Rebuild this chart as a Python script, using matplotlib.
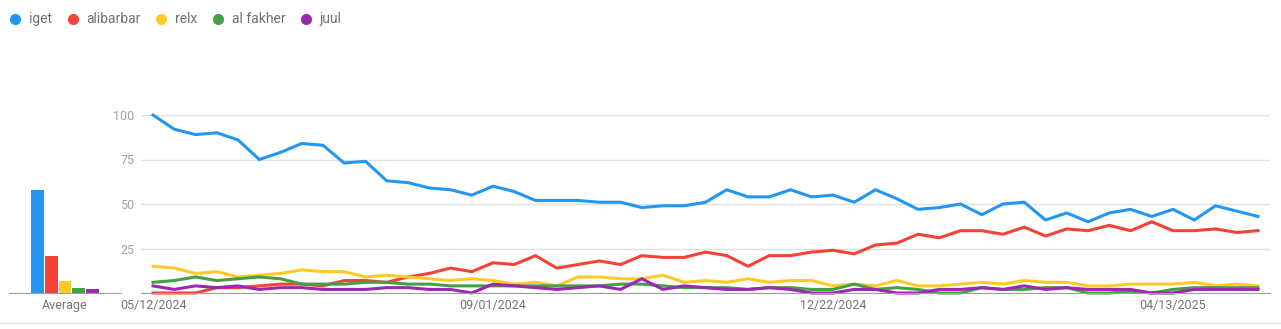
import matplotlib
matplotlib.use("Agg")
import matplotlib.pyplot as plt
import pandas as pd
from matplotlib.lines import Line2D

plt.rcParams['font.family'] = ['Roboto', 'DejaVu Sans']

# weekly search interest, 05/12/2024 .. 05/11/2025
weeks = pd.date_range("2024-05-12", periods=53, freq="7D")
terms = ["iget", "alibarbar", "relx", "al fakher", "juul"]
colors = ["#2196F3", "#F44336", "#FFCA28", "#43A047", "#9C27B0"]

iget = [100, 92, 89, 90, 86, 75, 79, 84, 83, 73, 74, 63, 62, 59, 58, 55, 60, 57,
        52, 52, 52, 51, 51, 48, 49, 49, 51, 58, 54, 54, 58, 54, 55, 51, 58,
        53, 47, 48, 50, 44, 50, 51, 41, 45, 40, 45, 47, 43, 47, 41, 49, 46, 43]
alibarbar = [0, 0, 0, 3, 3, 4, 5, 5, 4, 7, 7, 6, 9, 11, 14, 12, 17, 16,
             21, 14, 16, 18, 16, 21, 20, 20, 23, 21, 15, 21, 21, 23, 24, 22, 27,
             28, 33, 31, 35, 35, 33, 37, 32, 36, 35, 38, 35, 40, 35, 35, 36, 34, 35]
relx = [15, 14, 11, 12, 9, 10, 11, 13, 12, 12, 9, 10, 9, 8, 7, 8, 7, 5,
        6, 4, 9, 9, 8, 8, 10, 6, 7, 6, 8, 6, 7, 7, 4, 5, 4,
        7, 4, 4, 5, 6, 5, 7, 6, 6, 4, 4, 5, 5, 5, 6, 4, 5, 4]
al_fakher = [6, 7, 9, 7, 8, 9, 8, 5, 5, 5, 6, 6, 5, 5, 4, 4, 4, 4,
             4, 4, 4, 4, 5, 5, 4, 3, 3, 3, 2, 3, 3, 2, 2, 5, 2,
             3, 2, 0, 0, 3, 2, 2, 3, 3, 0, 0, 1, 0, 2, 3, 3, 3, 3]
juul = [4, 2, 4, 3, 4, 2, 3, 3, 2, 2, 2, 3, 3, 2, 2, 0, 5, 4,
        3, 2, 3, 4, 2, 8, 2, 4, 3, 2, 2, 3, 2, 0, 0, 2, 2,
        0, 0, 2, 2, 3, 2, 4, 2, 3, 2, 2, 2, 0, 0, 2, 2, 2, 2]
averages = [58, 21, 7, 3, 2]

series = [iget, alibarbar, relx, al_fakher, juul]
tick_idx = [0, 16, 32, 48]

W, H = 1281, 329
fig = plt.figure(figsize=(W / 100, H / 100), dpi=100)

# main line chart
ax = fig.add_axes([141 / W, (H - 293) / H, (1270 - 141) / W, 178 / H])
x = list(range(len(weeks)))
for vals, c in zip(series, colors):
    ax.plot(x, vals, color=c, lw=2.2, clip_on=False, solid_joinstyle="round")
ax.set_xlim(-0.565, len(weeks) - 1 + 0.565)
ax.set_ylim(0, 100)
ax.set_yticks([0, 25, 50, 75, 100])
ax.set_yticklabels(["", "25", "50", "75", "100"])
ax.grid(axis="y", color="#e0e0e0", lw=1)
ax.set_xticks(tick_idx)
ax.set_xticklabels([weeks[i].strftime("%m/%d/%Y") for i in tick_idx])
ax.tick_params(axis="y", length=0, pad=4.6, labelsize=9, labelcolor="#a0a0a0")
ax.tick_params(axis="x", length=0, pad=4, labelsize=9, labelcolor="#757575")
for s in ["top", "right", "left"]:
    ax.spines[s].set_visible(False)
ax.spines["bottom"].set_color("#9e9e9e")
ax.set_axisbelow(True)

# average bars (transparent background so the 100 label stays visible)
bx = fig.add_axes([9 / W, (H - 293) / H, 112 / W, 178 / H])
bx.patch.set_visible(False)
bx.bar(range(len(averages)), averages, width=0.94, color=colors)
bx.set_xlim(-2.07, 6.07)
bx.set_ylim(0, 100)
bx.set_yticks([])
bx.set_xticks([2])
bx.set_xticklabels(["Average"])
bx.tick_params(axis="x", length=0, pad=4, labelsize=9, labelcolor="#757575")
for s in ["top", "right", "left"]:
    bx.spines[s].set_visible(False)
bx.spines["bottom"].set_color("#9e9e9e")

# legend drawn along the top
fig.canvas.draw()
r = fig.canvas.get_renderer()
xpos = 15
for name, c in zip(terms, colors):
    fig.add_artist(Line2D([xpos / W], [(H - 19) / H], marker="o", ms=8,
                          color=c, markeredgewidth=0, linestyle=""))
    t = fig.text((xpos + 13.5) / W, (H - 19) / H, name, fontsize=10,
                 color="#707070", va="center", ha="left")
    w = t.get_window_extent(renderer=r).width
    xpos += 13.5 + w + 21

# bottom separator
fig.add_artist(Line2D([0, 1], [(H - 323) / H] * 2, color="#e6e6e6", lw=1))

fig.savefig("out.png", dpi=100)
